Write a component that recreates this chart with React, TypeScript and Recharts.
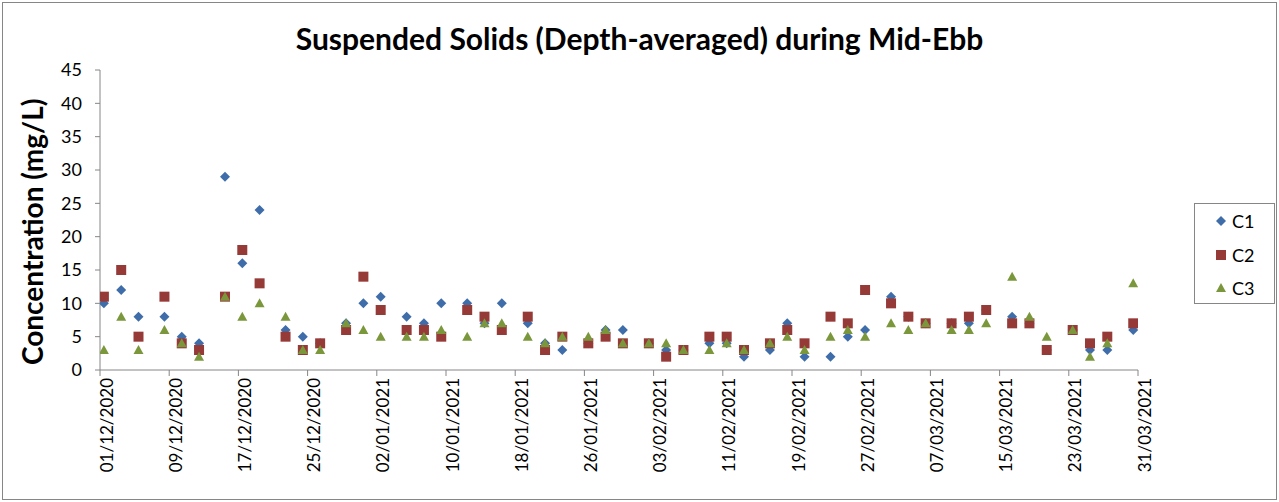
import { ScatterChart, Scatter, XAxis, YAxis } from "recharts";

// sampling dates (dd/mm/yyyy)
const sampleDates = [
  "01/12/2020", "03/12/2020", "05/12/2020", "08/12/2020", "10/12/2020", "12/12/2020",
  "15/12/2020", "17/12/2020", "19/12/2020", "22/12/2020", "24/12/2020", "26/12/2020",
  "29/12/2020", "31/12/2020", "02/01/2021", "05/01/2021", "07/01/2021", "09/01/2021",
  "12/01/2021", "14/01/2021", "16/01/2021", "19/01/2021", "21/01/2021", "23/01/2021",
  "26/01/2021", "28/01/2021", "30/01/2021", "02/02/2021", "04/02/2021", "06/02/2021",
  "09/02/2021", "11/02/2021", "13/02/2021", "16/02/2021", "18/02/2021", "20/02/2021",
  "23/02/2021", "25/02/2021", "27/02/2021", "02/03/2021", "04/03/2021", "06/03/2021",
  "09/03/2021", "11/03/2021", "13/03/2021", "16/03/2021", "18/03/2021", "20/03/2021",
  "23/03/2021", "25/03/2021", "27/03/2021", "30/03/2021",
];

const c1 = [
  10, 12, 8, 8, 5, 4, 29, 16, 24, 6, 5, 4, 7, 10, 11, 8, 7, 10, 10, 7, 10, 7, 4, 3, 4, 6,
  6, 4, 3, 3, 4, 4, 2, 3, 7, 2, 2, 5, 6, 11, 8, 7, 7, 7, 9, 8, 7, 3, 6, 3, 3, 6,
];
const c2 = [
  11, 15, 5, 11, 4, 3, 11, 18, 13, 5, 3, 4, 6, 14, 9, 6, 6, 5, 9, 8, 6, 8, 3, 5, 4, 5,
  4, 4, 2, 3, 5, 5, 3, 4, 6, 4, 8, 7, 12, 10, 8, 7, 7, 8, 9, 7, 7, 3, 6, 4, 5, 7,
];
const c3 = [
  3, 8, 3, 6, 4, 2, 11, 8, 10, 8, 3, 3, 7, 6, 5, 5, 5, 6, 5, 7, 7, 5, 4, 5, 5, 6,
  4, 4, 4, 3, 3, 4, 3, 4, 5, 3, 5, 6, 5, 7, 6, 7, 6, 6, 7, 14, 8, 5, 6, 2, 4, 13,
];

const xTickLabels = [
  "01/12/2020", "09/12/2020", "17/12/2020", "25/12/2020", "02/01/2021", "10/01/2021",
  "18/01/2021", "26/01/2021", "03/02/2021", "11/02/2021", "19/02/2021", "27/02/2021",
  "07/03/2021", "15/03/2021", "23/03/2021", "31/03/2021",
];
const yTicks = [0, 5, 10, 15, 20, 25, 30, 35, 40, 45];

const FONT = "Lato, 'Open Sans', sans-serif";
const AXIS = "#868686";

const START = Date.UTC(2020, 11, 1);
const dayOf = (s: string) => {
  const [d, m, y] = s.split("/").map(Number);
  return (Date.UTC(y, m - 1, d) - START) / 86400000;
};
const labelOf = (day: number) => {
  const t = xTickLabels.find((l) => dayOf(l) === day);
  return t ?? "";
};

// excel places day values at mid-slot
const toPoints = (vals: number[]) =>
  vals.map((v, i) => ({ x: dayOf(sampleDates[i]) + 0.45, y: v }));

const c1Data = toPoints(c1);
const c2Data = toPoints(c2);
const c3Data = toPoints(c3);
const xTicks = xTickLabels.map(dayOf);

const Diamond = ({ cx, cy, fill }: any) => (
  <polygon
    points={`${cx},${cy - 5} ${cx + 5},${cy} ${cx},${cy + 5} ${cx - 5},${cy}`}
    fill={fill}
  />
);
const Square = ({ cx, cy, fill }: any) => (
  <rect x={cx - 5} y={cy - 5} width={10} height={10} fill={fill} />
);
const Triangle = ({ cx, cy, fill }: any) => (
  <polygon
    points={`${cx},${cy - 5} ${cx + 5},${cy + 4} ${cx - 5},${cy + 4}`}
    fill={fill}
  />
);

const XTick = ({ x, y, payload }: any) => (
  <text
    x={x + 6}
    y={y}
    transform={`rotate(-90, ${x + 6}, ${y})`}
    textAnchor="end"
    dominantBaseline="central"
    fontSize={17}
    fontFamily={FONT}
    fill="#000"
  >
    {labelOf(payload.value)}
  </text>
);

const legendItems = [
  { name: "C1", color: "#3F6DAA", shape: "diamond" },
  { name: "C2", color: "#963A38", shape: "square" },
  { name: "C3", color: "#7A983B", shape: "triangle" },
];

export default function App() {
  return (
    <div
      style={{
        position: "absolute",
        left: 0,
        top: 0,
        width: 1279,
        height: 502,
        background: "#fff",
        fontFamily: FONT,
      }}
    >
      <div
        style={{
          position: "absolute",
          left: 2,
          top: 2,
          width: 1273,
          height: 496,
          border: `1px solid ${AXIS}`,
        }}
      />
      <div
        style={{
          position: "absolute",
          left: 0,
          width: 1279,
          top: 18,
          textAlign: "center",
          fontSize: 30,
          fontWeight: 700,
          lineHeight: "40px",
          color: "#000",
        }}
      >
        Suspended Solids (Depth-averaged) during Mid-Ebb
      </div>
      <ScatterChart
        width={1279}
        height={502}
        margin={{ top: 70, right: 141, bottom: 0, left: 0 }}
        style={{ position: "absolute", left: 0, top: 0 }}
      >
        <XAxis
          type="number"
          dataKey="x"
          domain={[0, 120]}
          ticks={xTicks}
          interval={0}
          height={132}
          stroke={AXIS}
          tickSize={6}
          tickMargin={2}
          tick={<XTick />}
          allowDataOverflow
        />
        <YAxis
          type="number"
          dataKey="y"
          domain={[0, 45]}
          ticks={yTicks}
          interval={0}
          width={100}
          stroke={AXIS}
          tickSize={5}
          tickMargin={13}
          tick={{ fontSize: 18, fill: "#000", fontFamily: FONT }}
          label={{
            value: "Concentration (mg/L)",
            angle: -90,
            position: "insideLeft",
            offset: 33,
            dy: 145,
            style: { fontSize: 28, fontWeight: 700, fill: "#000", fontFamily: FONT },
          }}
        />
        <Scatter name="C1" data={c1Data} fill="#3F6DAA" shape={<Diamond />} isAnimationActive={false} />
        <Scatter name="C2" data={c2Data} fill="#963A38" shape={<Square />} isAnimationActive={false} />
        <Scatter name="C3" data={c3Data} fill="#7A983B" shape={<Triangle />} isAnimationActive={false} />
      </ScatterChart>
      <div
        style={{
          position: "absolute",
          left: 1194,
          top: 203,
          width: 81,
          height: 101,
          border: `1px solid ${AXIS}`,
          boxSizing: "border-box",
        }}
      >
        {legendItems.map((it, i) => (
          <div
            key={it.name}
            style={{
              position: "absolute",
              left: 20,
              top: 5 + i * 33.5,
              height: 24,
              display: "flex",
              alignItems: "center",
              fontSize: 18,
            }}
          >
            <svg width={12} height={12} style={{ marginRight: 5 }}>
              {it.shape === "diamond" && <Diamond cx={6} cy={6} fill={it.color} />}
              {it.shape === "square" && <Square cx={6} cy={6} fill={it.color} />}
              {it.shape === "triangle" && <Triangle cx={6} cy={6} fill={it.color} />}
            </svg>
            {it.name}
          </div>
        ))}
      </div>
    </div>
  );
}
